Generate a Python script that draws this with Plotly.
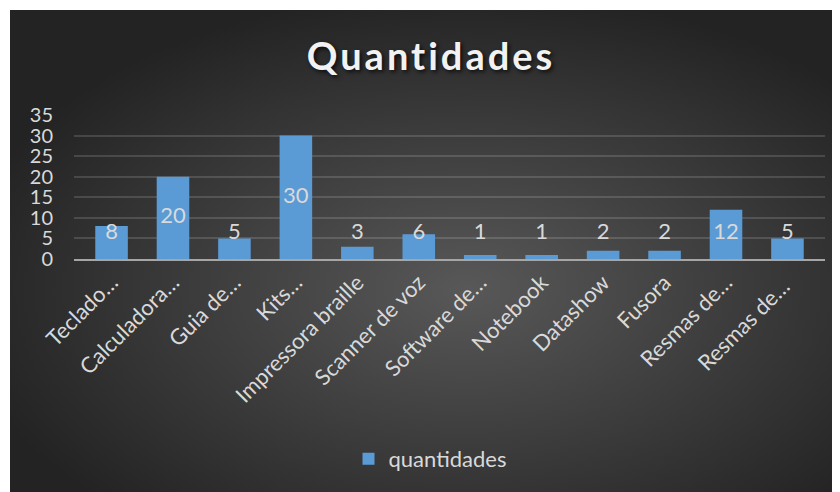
import base64
import numpy as np
import plotly.graph_objects as go

categories = ["Teclado…", "Calculadora…", "Guia de…", "Kits…", "Impressora braille",
              "Scanner de voz", "Software de…", "Notebook", "Datashow", "Fusora",
              "Resmas de…", "Resmas de… "]
values = [8, 20, 5, 30, 3, 6, 1, 1, 2, 2, 12, 5]
series_name = "quantidades"
title_text = "Quantidades"
y_ticks = [0, 5, 10, 15, 20, 25, 30, 35]

# page body has an 8px margin, so the figure is 8px smaller than the window
W, H = 832, 484
ML, MR, MT, MB = 66, 15, 107, 233
plot_w = W - ML - MR
plot_h = H - MT - MB

FONT = "Lato, 'Open Sans', sans-serif"
TXT = "#d9d9d9"

# radial gradient background panel (figure x 2..832, y 2..484)
PX0, PY0 = 2, 2
pw, ph = W - PX0, H - PY0
svg = (f'<svg xmlns="http://www.w3.org/2000/svg" width="{pw}" height="{ph}">'
       '<defs><radialGradient id="g" cx="55%" cy="58%" r="62%">'
       '<stop offset="0" stop-color="#585858"/><stop offset="1" stop-color="#232323"/>'
       '</radialGradient></defs>'
       f'<rect width="{pw}" height="{ph}" fill="url(#g)"/></svg>')
src = "data:image/svg+xml;base64," + base64.b64encode(svg.encode()).decode()

label_y = np.maximum(np.array(values) / 2, 6.2)

fig = go.Figure()
fig.add_trace(go.Bar(
    x=categories, y=values, name=series_name,
    marker=dict(color="#5b9bd5", line=dict(width=0)),
    hoverinfo="x+y",
))
fig.add_trace(go.Scatter(
    x=categories, y=label_y, mode="text", text=[str(v) for v in values],
    textfont=dict(family=FONT, size=22, color=TXT),
    showlegend=False, hoverinfo="skip",
))

fig.update_layout(
    width=W, height=H,
    margin=dict(l=ML, r=MR, t=MT, b=MB),
    paper_bgcolor="white",
    plot_bgcolor="rgba(0,0,0,0)",
    bargap=0.47,
    title=dict(text=f'<span style="letter-spacing:3px">{title_text}</span>',
               x=423 / W, xref="container", xanchor="center",
               y=1 - 49 / H, yref="container", yanchor="middle",
               font=dict(family=FONT, size=38, color="#f2f2f2", weight="bold",
                         shadow="2px 2px 4px rgba(0,0,0,0.75)")),
    font=dict(family=FONT, color=TXT),
    showlegend=True,
    legend=dict(orientation="h", xref="container", yref="container",
                x=422 / W, xanchor="center", y=1 - 451 / H, yanchor="middle",
                font=dict(family=FONT, size=22, color=TXT),
                bgcolor="rgba(0,0,0,0)"),
    images=[dict(source=src, xref="paper", yref="paper",
                 x=(PX0 - ML) / plot_w, y=(H - MB - PY0) / plot_h,
                 sizex=pw / plot_w, sizey=ph / plot_h,
                 xanchor="left", yanchor="top", sizing="stretch", layer="below")],
    xaxis=dict(tickangle=-45, tickfont=dict(family=FONT, size=22, color=TXT),
               showline=True, linecolor="#a6a6a6", linewidth=2,
               showgrid=False, ticks="", fixedrange=True),
    yaxis=dict(range=[0, 35], tickvals=y_ticks, tickfont=dict(family=FONT, size=20, color=TXT),
               showgrid=True, gridcolor="rgba(255,255,255,0.14)", gridwidth=1.5,
               zeroline=False, showline=False, ticks="", ticklabelstandoff=20,
               fixedrange=True),
)

fig.write_html("out.html")
